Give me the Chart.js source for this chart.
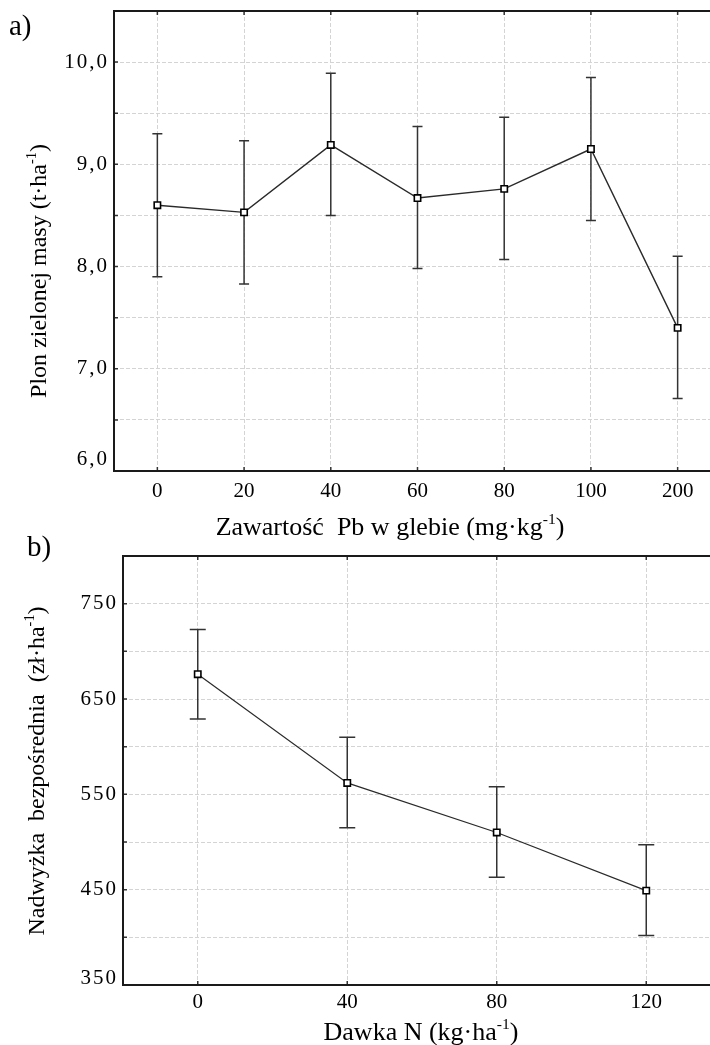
<!DOCTYPE html>
<html>
<head>
<meta charset="utf-8">
<script src="https://cdn.jsdelivr.net/npm/chart.js@4.4.1/dist/chart.umd.min.js"></script>
<style>
body { margin: 0; width: 710px; height: 1045px; overflow: hidden; background: #fff; position: relative; }
canvas { position: absolute; left: 0; }
#chartA { top: 0; }
#chartB { top: 520px; }
</style>
</head>
<body>
<canvas id="chartA" width="730" height="545"></canvas>
<canvas id="chartB" width="730" height="525"></canvas>
<script>
// a) green mass yield vs Pb content in soil
const pbLevels = ['0', '20', '40', '60', '80', '100', '200'];
const yieldMean = [8.60, 8.53, 9.19, 8.67, 8.76, 9.15, 7.40];
const yieldUpper = [9.30, 9.23, 9.89, 9.37, 9.46, 9.85, 8.10];
const yieldLower = [7.90, 7.83, 8.50, 7.98, 8.07, 8.45, 6.71];
const yieldTicks = [6, 7, 8, 9, 10];

// b) direct surplus vs N dose
const nDoses = ['0', '40', '80', '120'];
const surplusMean = [676, 562, 510, 449];
const surplusUpper = [723, 610, 558, 497];
const surplusLower = [629, 515, 463, 402];
const surplusTicks = [350, 450, 550, 650, 750];

const SERIF = '"Liberation Serif", "Times New Roman", serif';

// text with a small raised part (ha-1 etc)
function drawRich(ctx, parts, x, y, size) {
	let widths = [], total = 0;
	parts.forEach(p => {
		ctx.font = (p.sup ? size * 0.6 : size) + 'px ' + SERIF;
		const w = ctx.measureText(p.t).width;
		widths.push(w);
		total += w;
	});
	let cx = x - total / 2;
	ctx.textAlign = 'left';
	ctx.textBaseline = 'middle';
	parts.forEach((p, i) => {
		ctx.font = (p.sup ? size * 0.6 : size) + 'px ' + SERIF;
		ctx.fillText(p.t, cx, p.sup ? y - size * 0.33 : y);
		cx += widths[i];
	});
}

const decor = {
	id: 'decor',
	beforeDatasetsDraw(chart, args, o) {
		const { ctx, chartArea: a, scales: { x, y } } = chart;
		ctx.save();
		// small inward ticks
		ctx.strokeStyle = '#333';
		ctx.lineWidth = 1.5;
		ctx.beginPath();
		y.ticks.forEach(t => {
			const py = y.getPixelForValue(t.value);
			ctx.moveTo(a.left, py);
			ctx.lineTo(a.left + 4, py);
		});
		x.ticks.forEach((t, i) => {
			const px = x.getPixelForTick(i);
			ctx.moveTo(px, a.bottom);
			ctx.lineTo(px, a.bottom - 4);
			ctx.moveTo(px, a.top);
			ctx.lineTo(px, a.top + 4);
		});
		ctx.stroke();
		// frame
		ctx.lineWidth = 2;
		ctx.strokeStyle = '#1a1a1a';
		ctx.strokeRect(a.left, a.top, a.right - a.left, a.bottom - a.top);
		// error bars
		const meta = chart.getDatasetMeta(0);
		ctx.lineWidth = 1.5;
		ctx.strokeStyle = '#333';
		ctx.beginPath();
		meta.data.forEach((pt, i) => {
			const top = y.getPixelForValue(o.upper[i]);
			const bot = y.getPixelForValue(o.lower[i]);
			ctx.moveTo(pt.x, top); ctx.lineTo(pt.x, bot);
			ctx.moveTo(pt.x - o.cap, top); ctx.lineTo(pt.x + o.cap, top);
			ctx.moveTo(pt.x - o.cap, bot); ctx.lineTo(pt.x + o.cap, bot);
		});
		ctx.stroke();
		ctx.restore();
	},
	afterDraw(chart, args, o) {
		const { ctx, chartArea: a, scales: { y } } = chart;
		ctx.save();
		ctx.fillStyle = '#000';
		// y labels
		ctx.font = '21px ' + SERIF;
		ctx.letterSpacing = '2px';
		ctx.textAlign = 'right';
		ctx.textBaseline = 'middle';
		o.yTicks.forEach(v => {
			let py = y.getPixelForValue(v);
			if (v === y.min) py -= o.lift;
			const txt = o.decimals ? v.toFixed(1).replace('.', ',') : String(v);
			ctx.fillText(txt, a.left - 5, py);
		});
		ctx.letterSpacing = '0px';
		// axis titles
		drawRich(ctx, o.xTitle, o.xTitlePos[0], o.xTitlePos[1], 26);
		ctx.save();
		ctx.translate(o.yTitlePos[0], o.yTitlePos[1]);
		ctx.rotate(-Math.PI / 2);
		drawRich(ctx, o.yTitle, 0, 0, 24);
		ctx.restore();
		// panel letter
		ctx.font = '29px ' + SERIF;
		ctx.textAlign = 'left';
		ctx.textBaseline = 'middle';
		ctx.fillText(o.panel, o.panelPos[0], o.panelPos[1]);
		ctx.restore();
	}
};

function makeScales(yMin, yMax, step, yWidth, xHeight, xPad) {
	const grid = { color: '#d4d4d4', lineWidth: 1, drawTicks: false, offset: false };
	return {
		x: {
			type: 'category',
			offset: true,
			grid: grid,
			border: { display: false, dash: [4, 2] },
			ticks: { color: '#000', font: { family: SERIF, size: 21 }, padding: xPad, autoSkip: false, maxRotation: 0 },
			afterFit: s => { s.height = xHeight; }
		},
		y: {
			min: yMin,
			max: yMax,
			grid: grid,
			border: { display: false, dash: [4, 2] },
			ticks: { stepSize: step, display: false },
			afterFit: s => { s.width = yWidth; }
		}
	};
}

const chartA = new Chart(document.getElementById('chartA').getContext('2d'), {
	type: 'line',
	data: {
		labels: pbLevels,
		datasets: [{
			data: yieldMean,
			borderColor: '#2a2a2a',
			borderWidth: 1.4,
			pointStyle: 'rect',
			pointRadius: 4.5,
			pointBackgroundColor: '#fff',
			pointBorderColor: '#000',
			pointBorderWidth: 1.6
		}]
	},
	options: {
		responsive: false,
		animation: false,
		layout: { padding: { top: 11, right: 9, left: 0, bottom: 0 } },
		scales: makeScales(6, 10.5, 0.5, 114, 74, 8),
		plugins: {
			legend: { display: false },
			tooltip: { enabled: false },
			decor: {
				upper: yieldUpper,
				lower: yieldLower,
				cap: 5,
				yTicks: yieldTicks,
				decimals: true,
				lift: 12,
				xTitle: [{ t: 'Zawartość  Pb w glebie (mg·kg' }, { t: '-1', sup: true }, { t: ')' }],
				xTitlePos: [390, 528],
				yTitle: [{ t: 'Plon zielonej masy (t·ha' }, { t: '-1', sup: true }, { t: ')' }],
				yTitlePos: [40, 271],
				panel: 'a)',
				panelPos: [9, 27]
			}
		}
	},
	plugins: [decor]
});

const chartB = new Chart(document.getElementById('chartB').getContext('2d'), {
	type: 'line',
	data: {
		labels: nDoses,
		datasets: [{
			data: surplusMean,
			borderColor: '#2a2a2a',
			borderWidth: 1.2,
			pointStyle: 'rect',
			pointRadius: 4.5,
			pointBackgroundColor: '#fff',
			pointBorderColor: '#000',
			pointBorderWidth: 1.6
		}]
	},
	options: {
		responsive: false,
		animation: false,
		layout: { padding: { top: 36, right: 9, left: 0, bottom: 0 } },
		scales: makeScales(350, 800, 50, 123, 60, 5),
		plugins: {
			legend: { display: false },
			tooltip: { enabled: false },
			decor: {
				upper: surplusUpper,
				lower: surplusLower,
				cap: 8,
				yTicks: surplusTicks,
				decimals: false,
				lift: 7,
				xTitle: [{ t: 'Dawka N (kg·ha' }, { t: '-1', sup: true }, { t: ')' }],
				xTitlePos: [421, 513],
				yTitle: [{ t: 'Nadwyżka  bezpośrednia  (zł·ha' }, { t: '-1', sup: true }, { t: ')' }],
				yTitlePos: [38, 251],
				panel: 'b)',
				panelPos: [27, 28]
			}
		}
	},
	plugins: [decor]
});
</script>
</body>
</html>
